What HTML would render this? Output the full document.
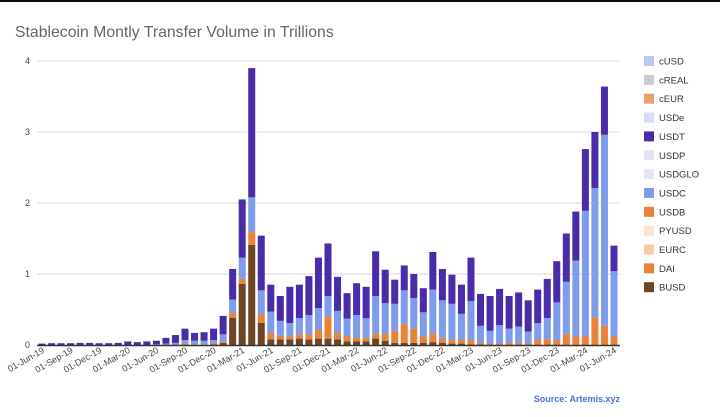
<!DOCTYPE html>
<html><head><meta charset="utf-8"><style>
body{margin:0;background:#fff;width:720px;height:412px;overflow:hidden;font-family:"Liberation Sans",sans-serif}
</style></head><body>
<svg id="chart" width="720" height="412" xmlns="http://www.w3.org/2000/svg">
<rect x="0" y="0" width="720" height="2" fill="#111"/>
<text x="15" y="37" font-size="15.8" fill="#666" font-family="Liberation Sans, sans-serif">Stablecoin Montly Transfer Volume in Trillions</text>
<g id="grid"></g><g id="bars"></g><g id="xlabels"></g><g id="legend"></g>
<text x="620" y="402" text-anchor="end" font-size="9" font-weight="bold" fill="#4a6fd6">Source: Artemis.xyz</text>
</svg>
<script>
const months=["Jun-19","Jul-19","Aug-19","Sep-19","Oct-19","Nov-19","Dec-19","Jan-20","Feb-20","Mar-20","Apr-20","May-20","Jun-20","Jul-20","Aug-20","Sep-20","Oct-20","Nov-20","Dec-20","Jan-21","Feb-21","Mar-21","Apr-21","May-21","Jun-21","Jul-21","Aug-21","Sep-21","Oct-21","Nov-21","Dec-21","Jan-22","Feb-22","Mar-22","Apr-22","May-22","Jun-22","Jul-22","Aug-22","Sep-22","Oct-22","Nov-22","Dec-22","Jan-23","Feb-23","Mar-23","Apr-23","May-23","Jun-23","Jul-23","Aug-23","Sep-23","Oct-23","Nov-23","Dec-23","Jan-24","Feb-24","Mar-24","Apr-24","May-24","Jun-24"];
const busd=[0,0,0,0,0,0,0,0,0,0,0,0,0,0,0,0,0,0,0.01,0.03,0.38,0.86,1.41,0.31,0.08,0.08,0.08,0.09,0.08,0.09,0.09,0.08,0.05,0.05,0.05,0.09,0.06,0.03,0.03,0.03,0.03,0.04,0.03,0.02,0.02,0.01,0.01,0,0,0,0,0,0,0,0,0,0,0,0,0,0];
const dai=[0,0,0,0,0,0,0,0,0,0,0,0,0,0,0,0.02,0.01,0.01,0.02,0.02,0.07,0.07,0.18,0.12,0.09,0.05,0.04,0.06,0.07,0.12,0.31,0.09,0.07,0.05,0.05,0.07,0.10,0.17,0.26,0.20,0.09,0.12,0.07,0.05,0.05,0.06,0.02,0.02,0.02,0.03,0.03,0.02,0.07,0.08,0.07,0.16,0.12,0.12,0.39,0.27,0.12];
const usdc=[0,0,0,0,0,0,0,0,0,0,0,0,0.01,0.02,0.03,0.05,0.05,0.05,0.04,0.10,0.19,0.30,0.49,0.34,0.30,0.21,0.19,0.23,0.27,0.31,0.29,0.31,0.25,0.32,0.28,0.53,0.43,0.38,0.48,0.43,0.34,0.62,0.53,0.51,0.37,0.55,0.24,0.18,0.26,0.20,0.23,0.17,0.24,0.30,0.53,0.73,1.07,1.77,1.82,2.69,0.92];
const usdt=[0.02,0.025,0.025,0.025,0.03,0.03,0.025,0.025,0.03,0.05,0.04,0.05,0.05,0.08,0.11,0.16,0.11,0.12,0.16,0.26,0.43,0.82,1.82,0.77,0.38,0.35,0.51,0.47,0.55,0.71,0.74,0.48,0.36,0.45,0.44,0.63,0.47,0.34,0.35,0.34,0.34,0.53,0.44,0.41,0.41,0.61,0.45,0.49,0.51,0.46,0.48,0.44,0.47,0.55,0.58,0.68,0.69,0.87,0.79,0.68,0.36];
const yTicks=[0,1,2,3,4];
const legendNames=["cUSD","cREAL","cEUR","USDe","USDT","USDP","USDGLO","USDC","USDB","PYUSD","EURC","DAI","BUSD"];
const legendColors=["#b7c8f2","#cccccc","#eba06c","#d5dbf8","#4a2ba8","#e4e1f7","#e6e5f6","#7e9bec","#ea8238","#fbe3cf","#f6cba5","#ea8238","#6e4424"];
const NS="http://www.w3.org/2000/svg";
const X0=42,STEP=9.533,Y0=345,PX=71,BW=7;
const xs=i=>X0+i*STEP, ys=v=>Y0-v*PX;
function mk(t,a,p){const e=document.createElementNS(NS,t);for(const k in a)e.setAttribute(k,a[k]);p.appendChild(e);return e;}
const grid=document.getElementById('grid');
yTicks.forEach(t=>{
 if(t>0){const l=mk('line',{x1:37,x2:620,y1:ys(t),y2:ys(t),stroke:'#d9d9d9','stroke-width':1},grid);
 
 }
 const tx=mk('text',{x:30,y:ys(t)+3,'text-anchor':'end','font-size':9,fill:'#444'},grid);tx.textContent=t;
 
 
});
const bars=document.getElementById('bars');
const series=[["busd",busd,"#6e4424"],["dai",dai,"#ea8238"],["usdc",usdc,"#7e9bec"],["usdt",usdt,"#4a2ba8"]];
months.forEach((m,i)=>{
 let base=0;
 series.forEach(([n,arr,c])=>{
  const v=arr[i]; if(v<=0)return;
  const r=mk('rect',{x:xs(i)-BW/2,y:ys(base+v),width:BW,height:v*PX,fill:c},bars);
  
  
  base+=v;
 });
});
const ax=mk('line',{x1:37,x2:620,y1:Y0+0.5,y2:Y0+0.5,stroke:'#333','stroke-width':1.5},bars);


const xl=document.getElementById('xlabels');
months.forEach((m,i)=>{
 if(i%3)return;
 const x=xs(i)+3,y=352;
 const t=mk('text',{x:x,y:y,'text-anchor':'end','font-size':9,fill:'#444',transform:`rotate(-30 ${x} ${y})`},xl);
 t.textContent='01-'+m;
 
 
});
const lg=document.getElementById('legend');
legendNames.forEach((n,i)=>{
 const y=61+i*18.85;
 const g=mk('g',{},lg);
 
 
 mk('rect',{x:644,y:y-5,width:10,height:10,fill:legendColors[i]},g);
 const t=mk('text',{x:659,y:y+3.5,'font-size':9.5,fill:'#333'},g);t.textContent=n;
});
</script>
</body></html>
